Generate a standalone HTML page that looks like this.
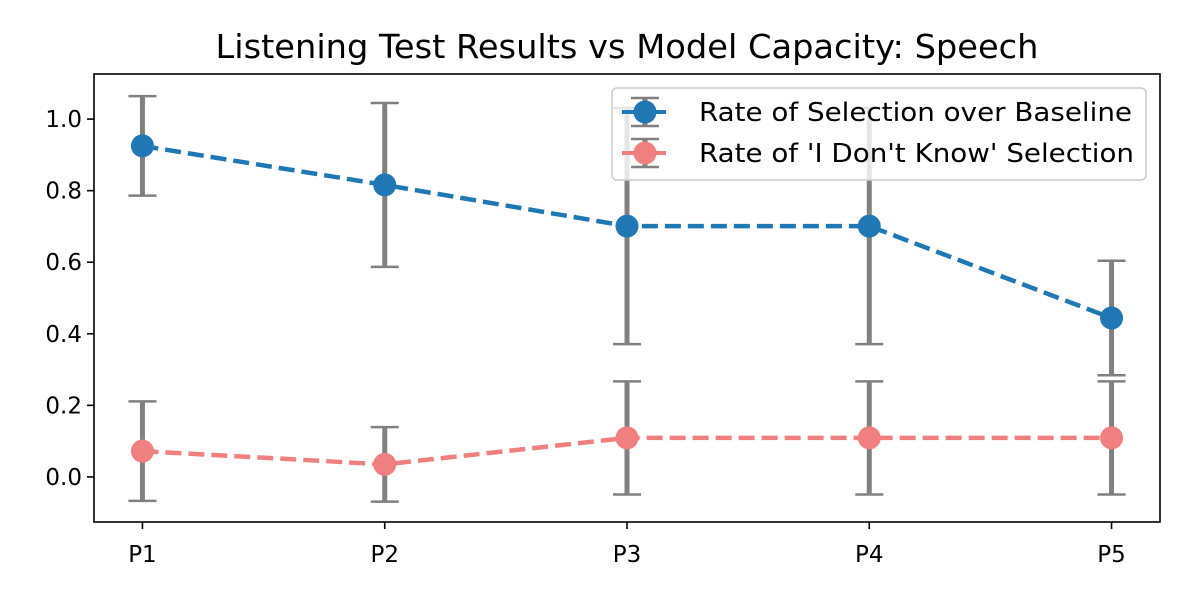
<!DOCTYPE html>
<html><head><meta charset="utf-8"><style>
body{margin:0;background:#fff}
svg{display:block;font-family:"DejaVu Sans","Liberation Sans",sans-serif}
</style></head><body>
<svg id="chart" width="1200" height="600" xmlns="http://www.w3.org/2000/svg">
<rect x="0" y="0" width="1200" height="600" fill="#fff"/>
<text x="627" y="58" font-size="33" text-anchor="middle" fill="#000" textLength="823" lengthAdjust="spacingAndGlyphs">Listening Test Results vs Model Capacity: Speech</text>
<g id="plot"></g>
<rect x="94" y="74" width="1066" height="448" fill="none" stroke="#000" stroke-width="1.6"/>
<g>
<rect x="612" y="88" width="534" height="92" rx="5" fill="#fff" fill-opacity="0.8" stroke="#ccc" stroke-width="1.5"/>
<g>
<line x1="622" y1="112" x2="666" y2="112" stroke="#1f77b4" stroke-width="4"/>
<line x1="645" y1="98" x2="645" y2="126" stroke="#808080" stroke-width="5"/>
<line x1="631" y1="98" x2="659" y2="98" stroke="#808080" stroke-width="2.5"/>
<line x1="631" y1="126" x2="659" y2="126" stroke="#808080" stroke-width="2.5"/>
<circle cx="645" cy="112" r="11.5" fill="#1f77b4"/>
<text x="699" y="121" font-size="26" fill="#000" textLength="433" lengthAdjust="spacingAndGlyphs">Rate of Selection over Baseline</text>
</g>
<g>
<line x1="622" y1="153" x2="666" y2="153" stroke="#f08080" stroke-width="4"/>
<line x1="645" y1="139" x2="645" y2="167" stroke="#808080" stroke-width="5"/>
<line x1="631" y1="139" x2="659" y2="139" stroke="#808080" stroke-width="2.5"/>
<line x1="631" y1="167" x2="659" y2="167" stroke="#808080" stroke-width="2.5"/>
<circle cx="645" cy="153" r="11.5" fill="#f08080"/>
<text x="699" y="162" font-size="26" fill="#000" textLength="435" lengthAdjust="spacingAndGlyphs">Rate of 'I Don't Know' Selection</text>
</g>
</g>
</svg>
<script>
const categories = ["P1","P2","P3","P4","P5"];
const baselineVals = [0.925, 0.816, 0.701, 0.701, 0.444];
const baselineErr = [0.139, 0.229, 0.33, 0.33, 0.16];
const dkVals = [0.072, 0.035, 0.109, 0.109, 0.109];
const dkErr = [0.139, 0.104, 0.158, 0.158, 0.158];
const yTicks = [0.0, 0.2, 0.4, 0.6, 0.8, 1.0];
const yTickLabels = ["0.0","0.2","0.4","0.6","0.8","1.0"];

const NS = "http://www.w3.org/2000/svg";
const X0 = 94, X1 = 1160, Y0 = 74, Y1 = 522;
const xMin = -0.2, xMax = 4.2, yMin = -0.126, yMax = 1.126;
const xs = i => X0 + (i - xMin) / (xMax - xMin) * (X1 - X0);
const ys = v => Y1 - (v - yMin) / (yMax - yMin) * (Y1 - Y0);
const plot = document.getElementById('plot');
function mk(tag, attrs, parent) {
  const e = document.createElementNS(NS, tag);
  for (const k in attrs) e.setAttribute(k, attrs[k]);
  (parent || plot).appendChild(e);
  return e;
}
yTicks.forEach((t, i) => {
  const g = mk('g', {});
  
  
  mk('line', {x1: X0 - 7, x2: X0, y1: ys(t), y2: ys(t), stroke: '#000', 'stroke-width': 1.6}, g);
  const tx = mk('text', {x: X0 - 12, y: ys(t) + 8, 'font-size': 23, 'text-anchor': 'end', fill: '#000'}, g);
  tx.textContent = yTickLabels[i];
});
categories.forEach((c, i) => {
  const g = mk('g', {});
  
  
  mk('line', {x1: xs(i), x2: xs(i), y1: Y1, y2: Y1 + 7, stroke: '#000', 'stroke-width': 1.6}, g);
  const tx = mk('text', {x: xs(i), y: Y1 + 40, 'font-size': 23, 'text-anchor': 'middle', fill: '#000'}, g);
  tx.textContent = c;
});
function series(vals, errs, color, name) {
  const g = mk('g', {});
  
  
  vals.forEach((v, i) => {
    const eb = mk('g', {}, g);
    
    
    const x = xs(i), t = ys(v + errs[i]), b = ys(v - errs[i]);
    mk('line', {x1: x, x2: x, y1: t, y2: b, stroke: '#808080', 'stroke-width': 5}, eb);
    mk('line', {x1: x - 14, x2: x + 14, y1: t, y2: t, stroke: '#808080', 'stroke-width': 2.5}, eb);
    mk('line', {x1: x - 14, x2: x + 14, y1: b, y2: b, stroke: '#808080', 'stroke-width': 2.5}, eb);
  });
  const pl = mk('polyline', {points: vals.map((v, i) => xs(i) + ',' + ys(v)).join(' '), fill: 'none', stroke: color, 'stroke-width': 4.5, 'stroke-dasharray': '16,7'}, g);
  
  
  vals.forEach((v, i) => {
    const c = mk('circle', {cx: xs(i), cy: ys(v), r: 11.5, fill: color}, g);
    
    
  });
}
series(baselineVals, baselineErr, '#1f77b4', 'series-baseline');
series(dkVals, dkErr, '#f08080', 'series-dont-know');
</script>
</body></html>
